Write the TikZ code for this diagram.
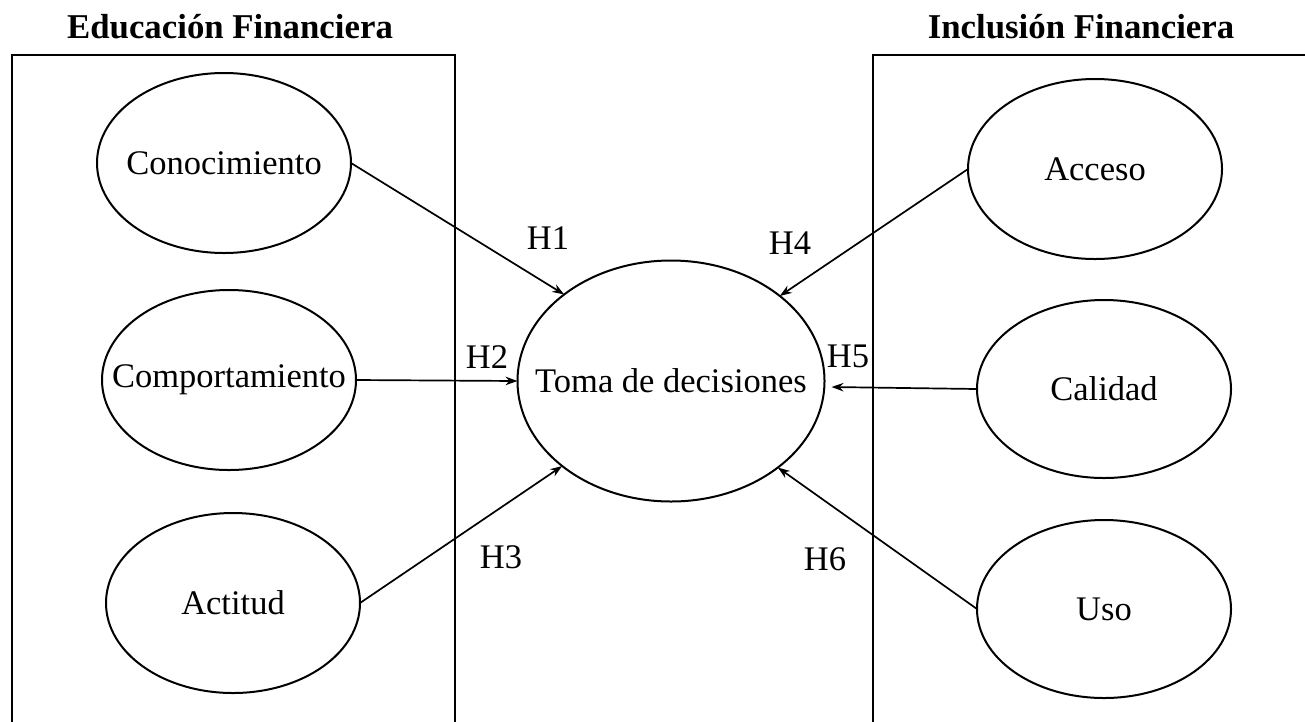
\documentclass[tikz,border=0pt]{standalone}
\usepackage{fontspec}
\setmainfont{Liberation Serif}
\usetikzlibrary{shapes.geometric,arrows.meta,calc}
\begin{document}
\begin{tikzpicture}[x=1pt,y=-1pt,
  every node/.style={font=\fontsize{34.5}{40}\selectfont},
  ell/.style={ellipse,draw,line width=2pt,minimum width=254pt,minimum height=180pt,inner sep=0pt,outer sep=0pt},
  frame/.style={line width=2.2pt},
  arr/.style={line width=1.7pt,-{Stealth[length=12pt,width=8.5pt]}},
  ttl/.style={font=\fontsize{34.8}{40}\selectfont\bfseries,anchor=base,inner sep=0pt},
  hlab/.style={inner sep=0pt}]
\useasboundingbox (0,0) rectangle (1305,721);
% frames
\draw[frame] (12,725) -- (12,55) -- (455,55) -- (455,725);
\draw[frame] (1310,55) -- (873,55) -- (873,725);
% titles
\node[ttl] (t1) at (230,38) {Educación Financiera};
\node[ttl] (t2) at (1081,38) {Inclusión Financiera};
% ellipses
\node[ell] (con) at (224,163) {\makebox[0pt]{Conocimiento}};
\node[ell] (com) at (229,380) {\makebox[0pt]{Comportamiento}};
\node[ell] (act) at (233,603) {\makebox[0pt]{Actitud}};
\node[ell] (acc) at (1095,169) {\makebox[0pt]{Acceso}};
\node[ell,minimum height=178pt] (cal) at (1104,389) {\makebox[0pt]{Calidad}};
\node[ell,minimum height=178pt] (uso) at (1104,609) {\makebox[0pt]{Uso}};
\node[ell,minimum width=307pt,minimum height=241pt] (toma) at (671,381) {\makebox[0pt]{Toma de decisiones}};
% connectors
\draw[arr] (con.east) -- (toma.141.7);
\draw[arr] (com.east) -- (toma.west);
\draw[arr] (act.east) -- (toma.218.3);
\draw[arr] (acc.west) -- (toma.38.3);
\draw[arr] (cal.west) -- ([shift={(7,6)}]toma.east);
\draw[arr] (uso.west) -- (toma.321.7);
% labels
\node[hlab] (h1) at (548,238) {H1};
\node[hlab] (h2) at (487,357) {H2};
\node[hlab] (h3) at (501,557) {H3};
\node[hlab] (h4) at (790,243) {H4};
\node[hlab] (h5) at (848,356) {H5};
\node[hlab] (h6) at (825,559) {H6};
\end{tikzpicture}
\end{document}
